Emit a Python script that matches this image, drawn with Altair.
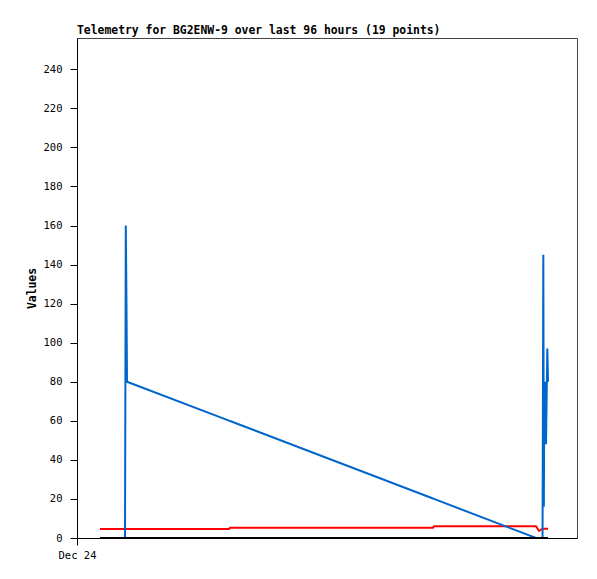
import altair as alt
import pandas as pd

# Sample times (local) and values
times = [
    "2023-12-24T04:25:00", "2023-12-24T09:13:00", "2023-12-24T09:22:00",
    "2023-12-24T09:30:00", "2023-12-24T09:36:00", "2023-12-25T05:11:00",
    "2023-12-25T05:23:00", "2023-12-26T20:21:00", "2023-12-26T20:33:00",
    "2023-12-27T16:08:00", "2023-12-27T16:42:00", "2023-12-27T17:23:00",
    "2023-12-27T17:32:00", "2023-12-27T17:38:00", "2023-12-27T17:43:00",
    "2023-12-27T17:55:00", "2023-12-27T18:03:00", "2023-12-27T18:18:00",
    "2023-12-27T18:26:00",
]
blue_vals = [0, 0, 160, 120, 80, 60.1, 59.9, 20.2, 20.0, 0, 0, 0,
             145, 16, 73, 80, 48, 97, 80]
red_vals = [4.6, 4.6, 4.6, 4.6, 4.6, 4.6, 5.3, 5.3, 6.0, 6.0, 3.6, 4.8,
            4.8, 4.8, 4.8, 4.8, 4.8, 4.8, 4.8]
black_vals = [0] * 19

y_ticks = list(range(0, 241, 20))
title_text = "Telemetry for BG2ENW-9 over last 96 hours (19 points)"

df = pd.DataFrame({"time": times, "blue": blue_vals, "red": red_vals,
                   "black": black_vals})
long = df.melt(id_vars="time", var_name="series", value_name="value")

FONT = "DejaVu Sans Mono"

x_enc = alt.X(
    "time:T",
    scale=alt.Scale(domain=[alt.DateTime(year=2023, month=12, date=24),
                            alt.DateTime(year=2023, month=12, date=28)]),
    axis=alt.Axis(values=[alt.DateTime(year=2023, month=12, date=24)],
                  format="%b %d", title=None, grid=False,
                  domainColor="black", tickColor="black", tickSize=7,
                  labelPadding=5, labelFont=FONT, labelFontSize=10.5,
                  labelColor="black", labelFlush=False),
)
y_enc = alt.Y(
    "value:Q",
    scale=alt.Scale(domain=[0, 256], nice=False),
    axis=alt.Axis(values=y_ticks, title="Values", grid=False,
                  domainColor="black", tickColor="black", tickSize=7,
                  labelPadding=8, labelFont=FONT, labelFontSize=10.5,
                  labelColor="black", titleFont=FONT, titleFontSize=11.4,
                  titleFontWeight="bold", titleColor="black",
                  titleAngle=270, titleAlign="center", titleBaseline="middle",
                  titleX=-45, titleY=250),
)

def layer(name, color):
    return alt.Chart(long).transform_filter(
        alt.datum.series == name
    ).mark_line(color=color, strokeWidth=2, interpolate="linear").encode(
        x=x_enc, y=y_enc
    )

chart = alt.layer(
    layer("red", "#ff0000"),
    layer("blue", "#0066cc"),
    layer("black", "#000000"),
).properties(
    width=500, height=500,
    title=alt.TitleParams(title_text, anchor="start", frame="group",
                          font=FONT, fontSize=11.4, fontWeight="bold",
                          color="black", offset=2),
    autosize=alt.AutoSizeParams(type="none"),
    padding={"left": 69, "top": 30, "right": 12, "bottom": 33},
).configure_view(stroke="#444444", strokeWidth=1)

chart.save("out.html", embed_options={"renderer": "svg", "actions": False})
